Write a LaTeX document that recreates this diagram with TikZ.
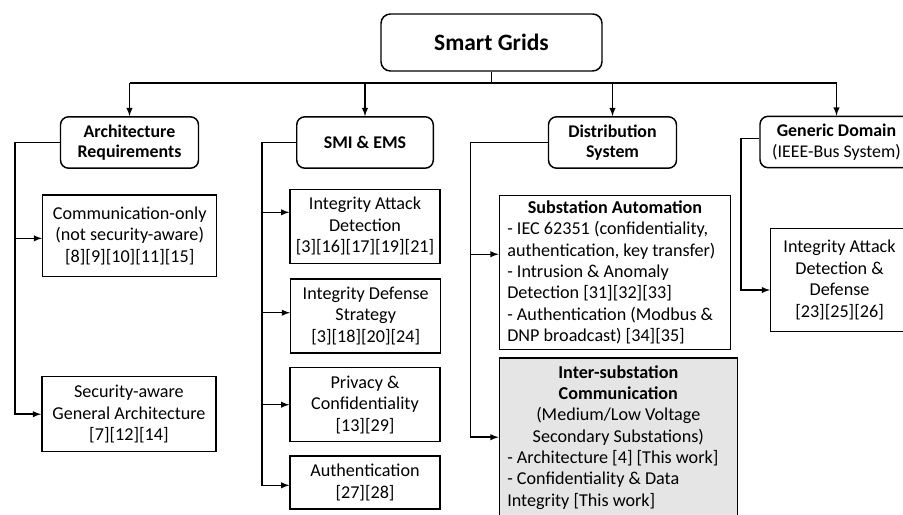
\documentclass[tikz,border=0pt]{standalone}
\usepackage{fontspec}
\setmainfont{Carlito}
\usetikzlibrary{arrows}

\begin{document}
\begin{tikzpicture}[x=0.75pt,y=-0.75pt,line width=1.1pt,
	every node/.style={execute at begin node={\spaceskip=0pt\xspaceskip=0pt}},
	root node/.style={draw,rounded corners=7pt,font=\fontsize{17.6}{21}\selectfont\bfseries,minimum width=165.75pt,minimum height=42.75pt},
	group node/.style={draw,rounded corners=6pt,align=center,font=\fontsize{13.4}{15.3}\selectfont\bfseries,minimum height=38.5pt},
	leaf node/.style={draw,align=center,font=\fontsize{13.6}{16.1}\selectfont,minimum width=112.5pt,minimum height=55.5pt},
	list node/.style={draw,align=flush left,font=\fontsize{13.6}{16}\selectfont,inner xsep=6pt,inner ysep=1pt}
]

	\useasboundingbox (0,0) rectangle (903,514);

	% top level
	\node[root node] (smart) at (491.5,42.5) {Smart Grids};
	\node[group node,minimum width=103.5pt] (archreq) at (129.5,142.5) {Architecture\\Requirements};
	\node[group node,minimum width=102.4pt] (smiems) at (365,142.5) {SMI \& EMS};
	\node[group node,minimum width=96pt] (distsys) at (612.5,142.5) {Distribution\\System};
	\node[group node,minimum width=114.75pt] (generic) at (836.5,142) {Generic Domain\\{\mdseries(IEEE-Bus System)}};

	% architecture
	\node[leaf node,minimum width=130.5pt,minimum height=61.3pt] (commonly) at (129.7,235.8) {Communication-only\\(not security-aware)\\{[8][9][10][11][15]}};
	\node[leaf node,minimum width=130.7pt,minimum height=56.25pt] (secaware) at (128.9,414.2) {Security-aware\\General Architecture\\{[7][12][14]}};

	% smi & ems
	\node[leaf node] (iad) at (365,226.3) {Integrity Attack\\Detection\\{[3][16][17][19][21]}};
	\node[leaf node] (ids) at (365.7,315.8) {Integrity Defense\\Strategy\\{[3][18][20][24]}};
	\node[leaf node] (privacy) at (365,404.7) {Privacy \&\\Confidentiality\\{[13][29]}};
	\node[leaf node,minimum height=39.75pt] (auth) at (365,482.5) {Authentication\\{[27][28]}};

	% distribution
	\node[list node,text width=161.5pt,minimum height=115.2pt] (subauto) at (615,272.5) {\makebox[\linewidth]{\textbf{Substation Automation}}\\
		- IEC 62351 (confidentiality,\\authentication, key transfer)\\- Intrusion \& Anomaly\\Detection [31][32][33]\\- Authentication (Modbus \&\\DNP broadcast) [34][35]};
	\node[list node,fill=gray!20,text width=166.5pt,minimum height=118.5pt] (intersub) at (618.3,437.2) {\makebox[\linewidth]{\textbf{Inter-substation}}\\
		\makebox[\linewidth]{\textbf{Communication}}\\\makebox[\linewidth]{(Medium/Low Voltage}\\\makebox[\linewidth]{Secondary Substations)}\\
		- Architecture [4] [This work]\\- Confidentiality \& Data\\Integrity [This work]};

	% generic domain
	\node[leaf node,minimum width=103.2pt,minimum height=77.5pt] (genleaf) at (839.5,280) {Integrity Attack\\Detection \&\\Defense\\{[23][25][26]}};

	% tree
	\coordinate (bar) at (491.5,83);
	\draw (smart.south) -- (bar);
	\draw (archreq.north |- bar) -- (generic.north |- bar);
	\foreach \grp in {archreq,smiems,distsys,generic}
		\draw[-latex] (\grp.north |- bar) -- (\grp.north);

	\coordinate (archbus) at (15,300);
	\draw[-latex] (archreq.west) -| (archbus) |- (secaware.west);
	\draw[-latex] ([yshift=-1.9pt]archbus |- commonly.west) -- ([yshift=-1.9pt]commonly.west);

	\coordinate (smibus) at (262,300);
	\draw[-latex] (smiems.west) -| (smibus) |- ([yshift=-2.1pt]auth.west);
	\draw[-latex] ([yshift=10.5pt]smibus |- iad.west) -- ([yshift=10.5pt]iad.west);
	\draw[-latex] ([yshift=2.3pt]smibus |- ids.west) -- ([yshift=2.3pt]ids.west);
	\draw[-latex] (smibus |- privacy.west) -- (privacy.west);

	\coordinate (distbus) at (470.5,300);
	\draw[-latex] (distsys.west) -| (distbus) |- (intersub.west);
	\draw[-latex] ([yshift=13.7pt]distbus |- subauto.west) -- ([yshift=13.7pt]subauto.west);

	\coordinate (genbus) at (741,200);
	\draw[-latex] ([yshift=2.8pt]generic.west) -| (genbus) |- ([yshift=-7.5pt]genleaf.west);
\end{tikzpicture}
\end{document}
